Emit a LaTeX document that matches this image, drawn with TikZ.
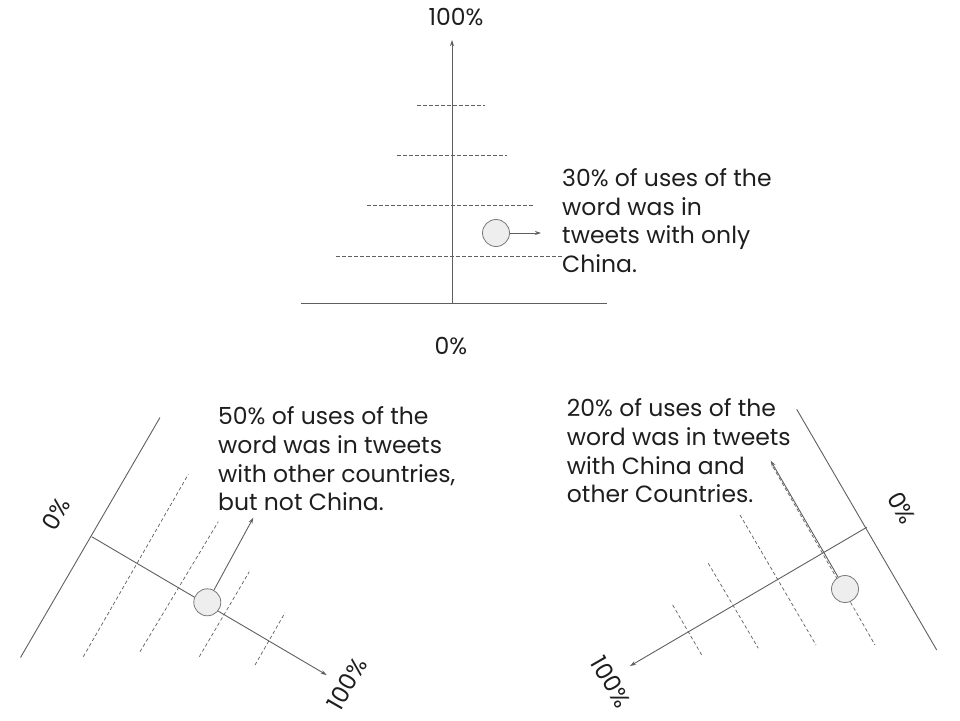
\documentclass[tikz,border=0pt]{standalone}
\usepackage{fontspec}
\setmainfont{Poppins}
\usetikzlibrary{arrows.meta}
\definecolor{linegray}{HTML}{5F5F5F}
\definecolor{dotfill}{HTML}{EEEEEE}
\definecolor{dotdraw}{HTML}{777777}
\definecolor{txt}{HTML}{1E1E1E}
\tikzset{
  axisline/.style={draw=linegray, line width=0.9pt},
  arr/.style={draw=linegray, line width=0.9pt, -{Stealth[length=6pt,width=4pt]}},
  guide/.style={draw=linegray, line width=0.7pt, dash pattern=on 3.5pt off 2.5pt},
  dot/.style={circle, draw=dotdraw, fill=dotfill, line width=0.8pt, minimum size=27pt, inner sep=0pt},
  lbl/.style={text=txt, font=\fontsize{23.5}{28.7}\selectfont, inner sep=0pt},
  blurb/.style={lbl, align=left, anchor=west},
}
\begin{document}
\begin{tikzpicture}[x=1pt,y=-1pt]
\useasboundingbox (0,0) rectangle (960,720);
% ---------- top chart ----------
\coordinate (t0) at (452,303);
\coordinate (t1) at (452,40);
\coordinate (h0) at (301,303);
\coordinate (h1) at (607,303);
\draw[axisline] (h0) -- (h1);
\draw[arr] (t0) -- (t1);
\draw[guide] (417,105) -- (485,105);
\draw[guide] (397,155) -- (507,155);
\draw[guide] (367,205) -- (534,205);
\draw[guide] (336,256) -- (563,256);
\node[dot] (c1) at (496,233) {};
\coordinate (a1) at (541,233);
\draw[arr] (c1) -- (a1);
\node[lbl] (top100) at (456,17) {100\%};
\node[lbl] (top0) at (451,346) {0\%};
\node[blurb] (txt1) at (562,220.5) {30\% of uses of the\\word was in\\tweets with only\\China.};
% ---------- bottom left chart ----------
\coordinate (l0) at (20.5,657.5);
\coordinate (l1) at (160,417.5);
\draw[axisline] (l0) -- (l1);
\coordinate (la0) at (91.7,536.7);
\coordinate (la1) at (326.7,675);
\draw[arr] (la0) -- (la1);
\draw[guide] (83.3,656.7) -- (188.3,474.3);
\draw[guide] (140,651.7) -- (218.3,521.7);
\draw[guide] (199.3,656.7) -- (249.3,571.7);
\draw[guide] (255,665) -- (285,612.7);
\node[dot] (c2) at (207.3,602.3) {};
\coordinate (a2) at (253.3,517.7);
\draw[arr] (c2) -- (a2);
\node[lbl, rotate=60] (l0pct) at (56,514) {0\%};
\node[lbl, rotate=60] (l100pct) at (347,684) {100\%};
\node[blurb] (txt2) at (218,459) {50\% of uses of the\\word was in tweets\\with other countries,\\but not China.};
% ---------- bottom right chart ----------
\coordinate (r0) at (796.7,409.3);
\coordinate (r1) at (936.7,650);
\draw[axisline] (r0) -- (r1);
\coordinate (ra0) at (866.7,527.3);
\coordinate (ra1) at (630,666);
\draw[arr] (ra0) -- (ra1);
\draw[guide] (740,515) -- (816,645);
\draw[guide] (708.3,563.3) -- (758.3,648.3);
\draw[guide] (672.7,605) -- (702.7,656.7);
\draw[guide] (773,467) -- (875,645);
\node[dot] (c3) at (845,589) {};
\coordinate (a3) at (770.7,460.7);
\draw[arr] (c3) -- (a3);
\node[lbl, rotate=-60] (r0pct) at (902,508) {0\%};
\node[lbl, rotate=-60] (r100pct) at (611,682) {100\%};
\node[blurb] (txt3) at (566.7,451) {20\% of uses of the\\word was in tweets\\with China and\\other Countries.};
\end{tikzpicture}
\end{document}
